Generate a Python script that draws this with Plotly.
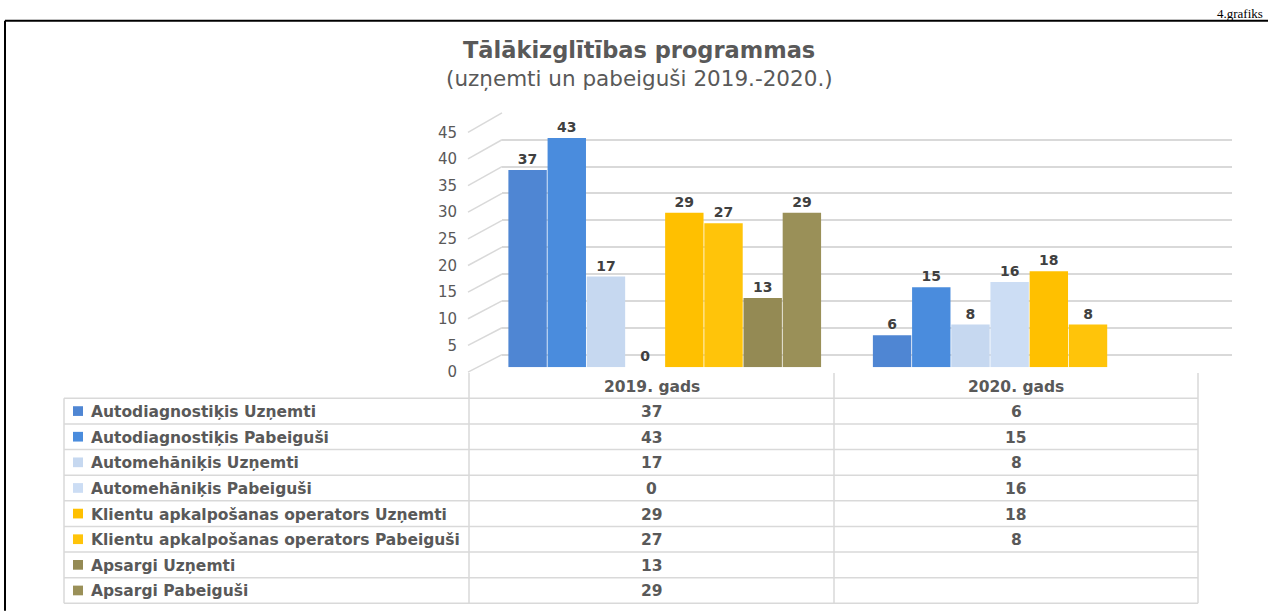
import plotly.graph_objects as go

# ---------------- data ----------------
categories = ["2019. gads", "2020. gads"]
series_names = [
    "Autodiagnostiķis Uzņemti",
    "Autodiagnostiķis Pabeiguši",
    "Automehāniķis Uzņemti",
    "Automehāniķis Pabeiguši",
    "Klientu apkalpošanas operators Uzņemti",
    "Klientu apkalpošanas operators Pabeiguši",
    "Apsargi Uzņemti",
    "Apsargi Pabeiguši",
]
autodiag_uznemti = [37, 6]
autodiag_pabeigusi = [43, 15]
automeh_uznemti = [17, 8]
automeh_pabeigusi = [0, 16]
klientu_uznemti = [29, 18]
klientu_pabeigusi = [27, 8]
apsargi_uznemti = [13, None]
apsargi_pabeigusi = [29, None]
series_values = [autodiag_uznemti, autodiag_pabeigusi, automeh_uznemti, automeh_pabeigusi,
                 klientu_uznemti, klientu_pabeigusi, apsargi_uznemti, apsargi_pabeigusi]
colors = ["#4F86D3", "#4A8CDD", "#C6D8F0", "#CCDDF4",
          "#FFC000", "#FFC40A", "#948A54", "#9A9058"]
y_ticks = [0, 5, 10, 15, 20, 25, 30, 35, 40, 45]
title_text = "Tālākizglītības programmas"
subtitle_text = "(uzņemti un pabeiguši 2019.-2020.)"
figure_label = "4.grafiks"

# ---------------- helpers ----------------
W, H = 1268, 615
def px(x):
    return x / W
def py(y):
    return 1 - y / H

FONT = "DejaVu Sans"
GRID = "#D9D9D9"
TXT = "#595959"

fig = go.Figure()

# back-wall grid subplot (x / y)
fig.add_trace(go.Scatter(x=[0.5], y=[0], xaxis="x", yaxis="y", mode="markers",
                         marker=dict(opacity=0), hoverinfo="skip", showlegend=False))
# tick label subplot (x3 / y3)
fig.add_trace(go.Scatter(x=[0.5], y=[0], xaxis="x3", yaxis="y3", mode="markers",
                         marker=dict(opacity=0), hoverinfo="skip", showlegend=False))

# bars (x2 / y2)
for name, vals, col in zip(series_names, series_values, colors):
    fig.add_trace(go.Bar(
        x=categories, y=vals, name=name, xaxis="x2", yaxis="y2",
        marker=dict(color=col, line=dict(width=0)),
        text=[("" if v is None else str(v)) for v in vals],
        textposition="outside",
        textfont=dict(family=FONT, size=14, color="#404040", weight="bold"),
        cliponaxis=False, showlegend=False,
    ))

shapes = []
annotations = []

# grid back wall geometry
back_x0, back_x1, back_y0, back_y1 = 502, 1232, 356, 107
front_x, front_y0, front_y1 = 468, 374, 127
for v in y_ticks:
    yb = back_y0 + (back_y1 - back_y0) * v / 45
    yf = front_y0 + (front_y1 - front_y0) * v / 45
    shapes.append(dict(type="line", xref="paper", yref="paper",
                       x0=px(front_x), y0=py(yf), x1=px(back_x0), y1=py(yb),
                       line=dict(color=GRID, width=1.5), layer="below"))

# table geometry
tbl_left, col1, col2, tbl_right = 64, 469, 834, 1198
row_top, row_h = 401, 26.4
hdr_top = 375
n_rows = len(series_names)
for i in range(n_rows + 1):
    y = row_top + i * row_h
    shapes.append(dict(type="line", xref="paper", yref="paper",
                       x0=px(tbl_left), x1=px(tbl_right), y0=py(y), y1=py(y),
                       line=dict(color=GRID, width=1.5)))
bottom = row_top + n_rows * row_h
shapes.append(dict(type="line", xref="paper", yref="paper",
                   x0=px(tbl_left), x1=px(tbl_left), y0=py(row_top), y1=py(bottom),
                   line=dict(color=GRID, width=1.5)))
for xv in (col1, col2, tbl_right):
    shapes.append(dict(type="line", xref="paper", yref="paper",
                       x0=px(xv), x1=px(xv), y0=py(hdr_top), y1=py(bottom),
                       line=dict(color=GRID, width=1.5)))

col_centers = [(col1 + col2) / 2, (col2 + tbl_right) / 2]
for c, cx in zip(categories, col_centers):
    annotations.append(dict(xref="paper", yref="paper", x=px(cx), y=py(389),
                            text=c, showarrow=False, xanchor="center", yanchor="middle",
                            font=dict(family=FONT, size=15.5, color=TXT, weight="bold")))

for i, (name, vals, col) in enumerate(zip(series_names, series_values, colors)):
    cy = row_top + (i + 0.5) * row_h
    shapes.append(dict(type="rect", xref="paper", yref="paper",
                       x0=px(73), x1=px(83), y0=py(cy - 5), y1=py(cy + 5),
                       fillcolor=col, line=dict(width=0)))
    annotations.append(dict(xref="paper", yref="paper", x=px(89), y=py(cy + 1),
                            text=name, showarrow=False, xanchor="left", yanchor="middle",
                            font=dict(family=FONT, size=15.5, color=TXT, weight="bold")))
    for v, cx in zip(vals, col_centers):
        if v is None:
            continue
        annotations.append(dict(xref="paper", yref="paper", x=px(cx), y=py(cy + 1),
                                text=str(v), showarrow=False, xanchor="center", yanchor="middle",
                                font=dict(family=FONT, size=15.5, color=TXT, weight="bold")))

# titles
annotations.append(dict(xref="paper", yref="paper", x=px(639), y=py(42), text=title_text,
                        showarrow=False, xanchor="center", yanchor="middle",
                        font=dict(family=FONT, size=22.5, color=TXT, weight="bold")))
annotations.append(dict(xref="paper", yref="paper", x=px(639), y=py(72), text=subtitle_text,
                        showarrow=False, xanchor="center", yanchor="middle",
                        font=dict(family=FONT, size=21.5, color=TXT)))
annotations.append(dict(xref="paper", yref="paper", x=px(1265), y=py(5), text=figure_label,
                        showarrow=False, xanchor="right", yanchor="middle",
                        font=dict(family="Liberation Serif", size=13, color="#000000")))

# outer page border
shapes.append(dict(type="line", xref="paper", yref="paper", x0=px(5), x1=px(5),
                   y0=py(12), y1=py(H + 5), line=dict(color="black", width=2)))
shapes.append(dict(type="line", xref="paper", yref="paper", x0=px(5), x1=px(W + 5),
                   y0=py(12), y1=py(12), line=dict(color="black", width=2)))

fig.update_layout(
    width=W, height=H, autosize=False,
    margin=dict(l=0, r=0, t=0, b=0),
    paper_bgcolor="white", plot_bgcolor="rgba(0,0,0,0)",
    barmode="group", bargap=0.14, bargroupgap=0.02,
    shapes=shapes, annotations=annotations,
    xaxis=dict(domain=[px(back_x0), px(back_x1)], range=[0, 1], visible=False, anchor="y"),
    yaxis=dict(domain=[py(back_y0), py(back_y1)], range=[-0.01, 45.01], anchor="x",
               tickvals=y_ticks, showticklabels=False, showgrid=True, gridcolor=GRID,
               gridwidth=1.5, zeroline=True, zerolinecolor=GRID, zerolinewidth=1.5,
               showline=False, ticks=""),
    xaxis2=dict(domain=[px(col1), px(tbl_right)], type="category",
                range=[-0.537, 1.463], visible=False, anchor="y2"),
    yaxis2=dict(domain=[py(369), py(122)], range=[0, 45], visible=False, anchor="x2"),
    xaxis3=dict(domain=[px(458), px(466)], range=[0, 1], visible=False, anchor="y3"),
    yaxis3=dict(domain=[py(front_y0), py(front_y1)], range=[0, 45], anchor="x3",
                tickvals=y_ticks, ticktext=[str(t) for t in y_ticks], showgrid=False,
                zeroline=False, showline=False, ticks="", side="left",
                tickfont=dict(family=FONT, size=15, color=TXT)),
    hovermode=False,
)

# pin the figure to the window's top-left corner (no page margins / scrolling)
post_js = (
    "var gd=document.getElementById('{plot_id}');"
    "document.documentElement.style.margin='0';"
    "document.documentElement.style.overflow='hidden';"
    "document.body.style.margin='0';"
    "document.body.style.overflow='hidden';"
    "gd.style.position='fixed';gd.style.left='0px';gd.style.top='0px';"
)

fig.write_html("out.html", post_script=post_js, config={"displayModeBar": False})
